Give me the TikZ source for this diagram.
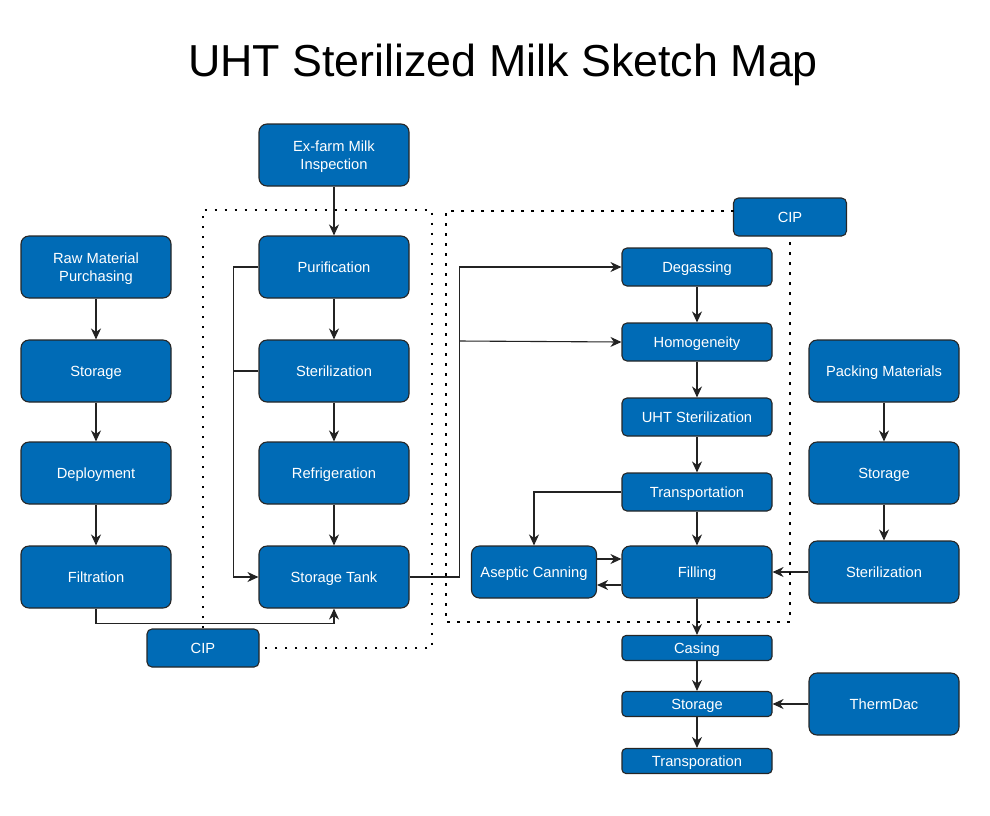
\documentclass[tikz,border=0pt]{standalone}
\usepackage{fontspec}
\setmainfont{Liberation Sans}
\usetikzlibrary{arrows.meta}
\definecolor{boxblue}{RGB}{0,107,182}
\definecolor{edgegray}{RGB}{35,35,35}
\begin{document}
\begin{tikzpicture}[x=1pt,y=-1pt,
 box/.style={draw=black!85, line width=1.1pt, fill=boxblue, rounded corners=8pt, text=white,
   font=\fontsize{14.7}{18}\selectfont, align=center, inner sep=0pt, text depth=0pt,
   minimum width=150pt, minimum height=62pt},
 sbox/.style={box, rounded corners=5pt, minimum height=38pt},
 tbox/.style={box, rounded corners=4pt, minimum height=25pt},
 arr/.style={-{Stealth[length=11pt,width=10pt,inset=3.5pt]}, line width=1.1pt, draw=edgegray},
 ln/.style={line width=1.1pt, draw=edgegray},
 dots/.style={line width=2.8pt, dash pattern=on 2.8pt off 7.2pt, draw=black}]
\useasboundingbox (0,0) rectangle (990,815);

\node (title) at (503,65) {\fontsize{44.8}{50}\selectfont UHT Sterilized Milk Sketch Map};

% middle column
\node[box] (exf)  at (334,155) {Ex-farm Milk\\Inspection};
\node[box] (pur)  at (334,267) {Purification};
\node[box] (ster) at (334,371) {Sterilization};
\node[box] (ref)  at (334,473) {Refrigeration};
\node[box] (tank) at (334,577) {Storage Tank};

% left column
\node[box] (raw)  at (96,267) {Raw Material\\Purchasing};
\node[box] (lsto) at (96,371) {Storage};
\node[box] (dep)  at (96,473) {Deployment};
\node[box] (filt) at (96,577) {Filtration};

\node[sbox, minimum width=112pt] (cipb) at (203,648) {CIP};
\node[sbox, minimum width=113pt] (cipt) at (790,217) {CIP};

% right-middle column
\node[sbox] (deg)   at (697,267) {Degassing};
\node[sbox] (hom)   at (697,342) {Homogeneity};
\node[sbox] (uht)   at (697,417) {UHT Sterilization};
\node[sbox] (trans) at (697,492) {Transportation};
\node[box, minimum height=52pt] (fill) at (697,572) {Filling};
\node[box, minimum height=52pt, minimum width=125pt] (asep) at (534,572) {Aseptic Canning};

\node[tbox] (cas)  at (697,648) {Casing};
\node[tbox] (bsto) at (697,704) {Storage};
\node[tbox] (tpo)  at (697,761) {Transporation};

% right column
\node[box] (pack) at (884,371) {Packing Materials};
\node[box] (rsto) at (884,473) {Storage};
\node[box] (rste) at (884,572) {Sterilization};
\node[box] (therm) at (884,704) {ThermDac};

% helper coordinates
\coordinate (ya) at (0,559);
\coordinate (yb) at (0,585);
\coordinate (hb) at (459,341);

% connectors
\draw[arr] (exf) -- (pur);
\draw[arr] (pur) -- (ster);
\draw[arr] (ster) -- (ref);
\draw[arr] (ref) -- (tank);
\draw[arr] (pur.west) -- ++(-25,0) |- (tank.west);
\draw[ln] (ster.west) -- ++(-25,0);

\draw[arr] (raw) -- (lsto);
\draw[arr] (lsto) -- (dep);
\draw[arr] (dep) -- (filt);
\draw[arr] (filt.south) -- ++(0,15) -| (tank.south);

\draw[arr] (tank.east) -- ++(50,0) |- (deg.west);
\draw[arr] (hb) -- (hom.west);

\draw[arr] (deg) -- (hom);
\draw[arr] (hom) -- (uht);
\draw[arr] (uht) -- (trans);
\draw[arr] (trans) -- (fill);
\draw[arr] (trans.west) -| (asep.north);
\draw[arr] (asep.east |- ya) -- (fill.west |- ya);
\draw[arr] (fill.west |- yb) -- (asep.east |- yb);
\draw[arr] (fill) -- (cas);
\draw[arr] (cas) -- (bsto);
\draw[arr] (bsto) -- (tpo);
\draw[arr] (rste) -- (fill);
\draw[arr] (therm) -- (bsto);

\draw[arr] (pack) -- (rsto);
\draw[arr] (rsto) -- (rste);

% dotted CIP loops
\draw[dots] (cipb.north) -- (203,210) -- (432,210) -- (432,648) -- (cipb.east);
\draw[dots] (734,211) -- (446,211) -- (446,622) -- (790,622) -- (cipt.south);
\end{tikzpicture}
\end{document}
